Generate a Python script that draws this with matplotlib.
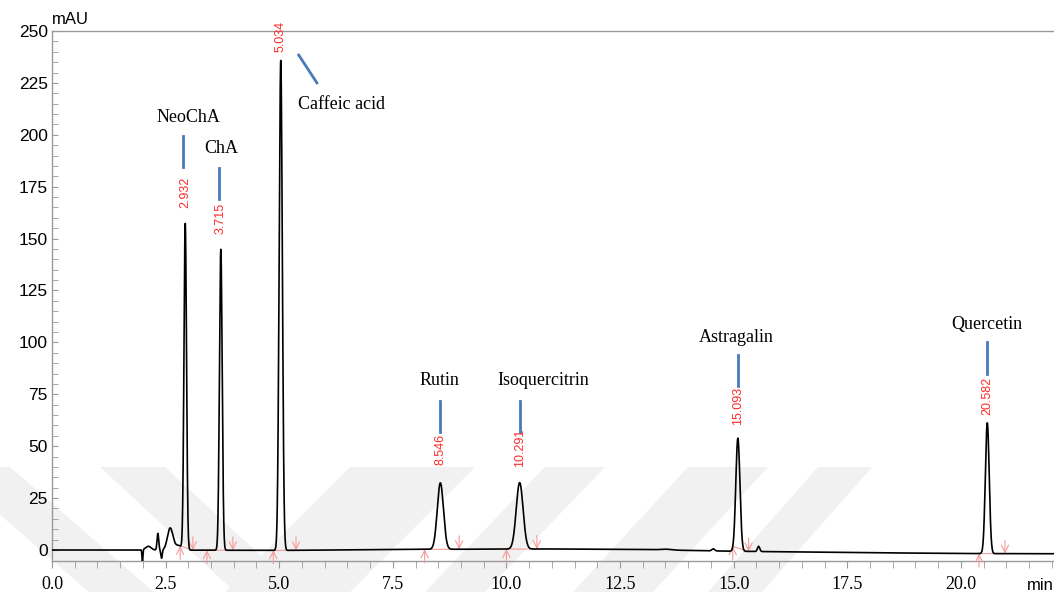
import numpy as np
import matplotlib.pyplot as plt
from matplotlib.patches import Polygon

serif = ['Liberation Serif', 'DejaVu Serif']
sans = ['Liberation Sans', 'DejaVu Sans']
plt.rcParams['font.family'] = serif

# identified peaks
names = ['NeoChA', 'ChA', 'Caffeic acid', 'Rutin', 'Isoquercitrin', 'Astragalin', 'Quercetin']
rt = [2.932, 3.715, 5.034, 8.546, 10.291, 15.093, 20.582]
height = [157.0, 145.0, 236.0, 32.0, 32.0, 54.5, 63.0]
sigma = [0.028, 0.030, 0.035, 0.068, 0.075, 0.045, 0.042]

# solvent front and minor bumps
minor_rt = [1.99, 2.12, 2.33, 2.41, 2.60, 2.78, 13.50, 14.55, 15.55]
minor_h = [-6.0, 1.8, 8.0, -4.0, 10.5, 2.2, 0.4, 1.0, 2.5]
minor_w = [0.010, 0.060, 0.018, 0.015, 0.060, 0.080, 0.120, 0.030, 0.025]

# baseline drift
base_t = [0.0, 2.0, 5.0, 8.0, 11.0, 13.0, 15.0, 17.5, 20.0, 22.05]
base_y = [0.0, 0.0, -0.2, 0.3, 0.5, 0.2, -0.6, -1.2, -1.7, -1.8]

# integration limits
int_start = [2.82, 3.41, 4.87, 8.20, 10.00, 14.98, 20.40]
int_end = [3.10, 3.98, 5.37, 8.96, 10.67, 15.33, 20.97]

# label placement: text position, marker line (y0, y1), retention time label bottom
label_x = [3.0, 3.73, 5.42, 8.52, 10.81, 15.06, 20.58]
label_y = [208.5, 193.5, 214.5, 81.5, 81.5, 102.5, 108.5]
marker = [(184.5, 199.5), (169, 184), None, (57, 72), (57, 72), (79, 94), (85, 100)]
rt_label_y = [164.5, 152, 240, 41, 40, 60, 65]

t = np.arange(0, 22.05, 0.002)


def trace(x):
    y = np.interp(x, base_t, base_y)
    for r, h, s in zip(rt, height, sigma):
        y = y + h * np.exp(-0.5 * ((x - r) / s) ** 2)
    for r, h, s in zip(minor_rt, minor_h, minor_w):
        y = y + h * np.exp(-0.5 * ((x - r) / s) ** 2)
    return y


signal = trace(t)

fig = plt.figure(figsize=(10.54, 5.92), dpi=100)
fig.patch.set_facecolor('white')

# background watermark bands (pixel coords, y down)
W, H = 1054, 592
bands = [(-55, 10, 144), (100, 165, 135), (350, 475, -125), (545, 605, -120),
         (688, 768, -115), (818, 872, -110)]
for x0, x1, dx in bands:
    pts = [(x0, 467), (x1, 467), (x1 + dx, 592), (x0 + dx, 592)]
    fig.add_artist(Polygon([(px / W, 1 - py / H) for px, py in pts],
                           closed=True, facecolor='#f1f1f1', edgecolor='none',
                           transform=fig.transFigure, zorder=0))

ax = fig.add_axes([52 / W, 31 / H, 1 - 52 / W, 530 / H])
ax.patch.set_alpha(0)
ax.set_xlim(0, 22.05)
ax.set_ylim(-5.3, 250)

ax.plot(t, signal, color='black', lw=1.2, zorder=5)

pink = '#f59a9a'
for s, e in zip(int_start, int_end):
    ys, ye = trace(np.array([s, e]))
    ax.plot([s, e], [ys, ye], color=pink, lw=0.8, zorder=4)
    ax.annotate('', xy=(s, ys), xytext=(s, ys - 6.5),
                arrowprops=dict(arrowstyle='->', color=pink, lw=0.8,
                                shrinkA=0, shrinkB=0, mutation_scale=13))
    ax.annotate('', xy=(e, ye), xytext=(e, ye + 6.5),
                arrowprops=dict(arrowstyle='->', color=pink, lw=0.8,
                                shrinkA=0, shrinkB=0, mutation_scale=13))

blue = '#4a7ab8'
for i, name in enumerate(names):
    ha = 'left' if name == 'Caffeic acid' else 'center'
    ax.text(label_x[i], label_y[i], name, fontsize=13, ha=ha, va='center', zorder=6)
    if marker[i] is not None:
        ax.plot([rt[i] - 0.05, rt[i] - 0.05] if i < 2 else [rt[i], rt[i]],
                marker[i], color=blue, lw=2, zorder=6)
    ax.text(rt[i], rt_label_y[i], f'{rt[i]:.3f}', rotation=90, color='#ff2a2a',
            family=sans, fontsize=9, ha='center', va='bottom',
            clip_on=False, zorder=6)
# diagonal pointer for caffeic acid
ax.plot([5.43, 5.83], [238.4, 225], color=blue, lw=2, zorder=6)

# axes styling
ax.spines['right'].set_visible(False)
for side in ['left', 'top', 'bottom']:
    ax.spines[side].set_color('#9a9a9a')
    ax.spines[side].set_linewidth(1.0)

xt = np.arange(0, 22.5, 2.5)
ax.set_xticks(xt, [f'{v:.1f}' for v in xt])
ax.set_xticks(np.arange(0, 22.05, 0.5), minor=True)
ax.set_yticks(np.arange(0, 251, 25), [f'{v:d}' for v in range(0, 251, 25)],
              family=sans)
ax.set_yticks(np.arange(0, 251, 5), minor=True)
ax.tick_params(axis='x', which='both', direction='out', length=5, color='#9a9a9a',
               pad=6, labelsize=13)
ax.tick_params(axis='y', which='both', direction='in', length=4, color='#9a9a9a',
               pad=3, labelsize=12.5)

fig.text(52 / W, 1 - 20 / H, 'mAU', family=sans, fontsize=12, ha='left', va='center')
fig.text(1, 1 - 585 / H, 'min', family=sans, fontsize=12, ha='right', va='center')

fig.savefig('out.png', dpi=100, facecolor='white')
